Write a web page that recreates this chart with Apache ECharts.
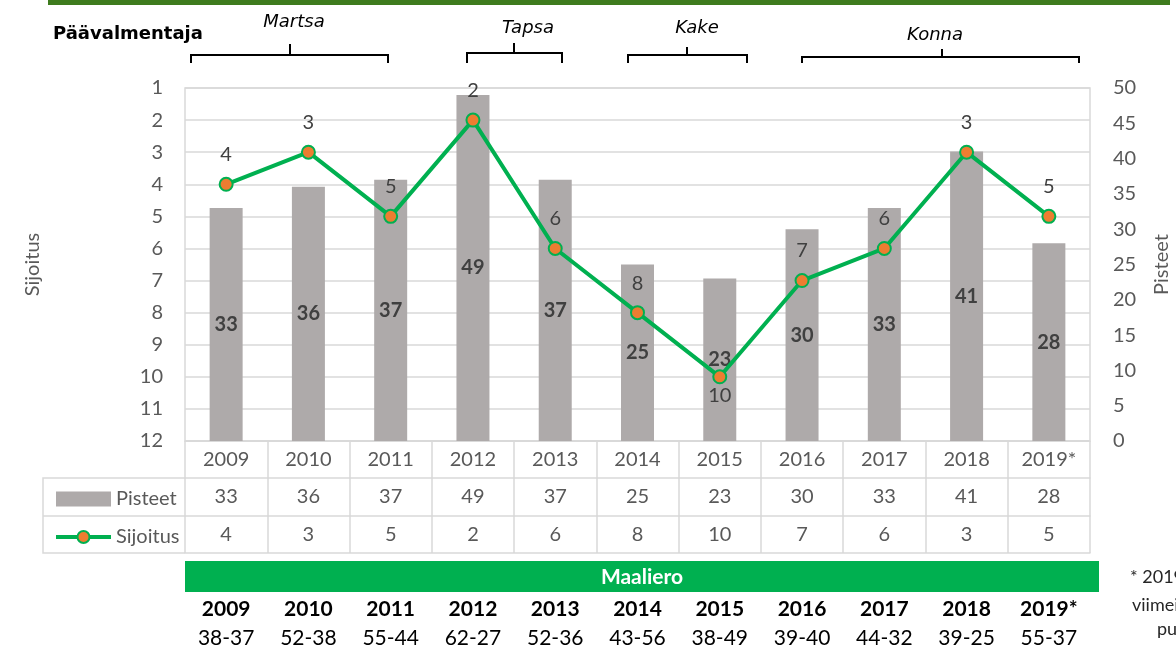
<!DOCTYPE html>
<html>
<head>
<meta charset="utf-8">
<script src="https://cdn.jsdelivr.net/npm/echarts@6/dist/echarts.min.js"></script>
<style>
html, body { margin: 0; padding: 0; background: #fff; }
#container { width: 1176px; height: 649px; }
</style>
</head>
<body>
<div id="container"></div>
<script>
var vuodet = ['2009', '2010', '2011', '2012', '2013', '2014', '2015', '2016', '2017', '2018', '2019*'];
var pisteet = [33, 36, 37, 49, 37, 25, 23, 30, 33, 41, 28];
var sijoitus = [4, 3, 5, 2, 6, 8, 10, 7, 6, 3, 5];
var maaliero = ['38-37', '52-38', '55-44', '62-27', '52-36', '43-56', '38-49', '39-40', '44-32', '39-25', '55-37'];
var sijoitusTicks = [1, 12, 1];		// min, max, interval
var pisteetTicks = [0, 50, 5];

var FONT = 'Lato, "Open Sans", sans-serif';
var GRAY = '#595959';
var LINE = '#d9d9d9';

// taulukon rivit tehdään lisä-x-akseleilla
function tableAxis(data, offset, tickLen, label) {
	return {
		type: 'category',
		data: data,
		position: 'bottom',
		gridIndex: 0,
		offset: offset,
		axisLine: { show: true, lineStyle: { color: LINE, width: 1.5 } },
		axisTick: { show: tickLen > 0, length: tickLen, interval: 0, lineStyle: { color: LINE, width: 1.5 } },
		axisLabel: label || { show: false }
	};
}
var rowLabel = { interval: 0, margin: 7, fontFamily: FONT, fontSize: 20, lineHeight: 24, color: GRAY };

var dom = document.getElementById('container');
var myChart = echarts.init(dom);

var option = {
	animation: false,
	textStyle: { fontFamily: FONT },
	legend: {
		orient: 'vertical',
		left: 49,
		top: 482,
		itemWidth: 55,
		itemHeight: 15,
		itemGap: 14,
		textStyle: { fontFamily: FONT, fontSize: 20, lineHeight: 24, color: GRAY },
		data: [
			{ name: 'Pisteet', icon: 'rect' },
			{ name: 'Sijoitus', lineStyle: { width: 4 } }
		]
	},
	grid: {
		left: 185, right: 86, top: 88, bottom: 208,
		outerBoundsMode: 'none',
		containLabel: false,
		show: true, borderColor: LINE, borderWidth: 1.5
	},
	xAxis: [
		tableAxis(vuodet, 0, 37, rowLabel),
		tableAxis(pisteet.map(String), 37, 38, rowLabel),
		tableAxis(sijoitus.map(String), 75, 37, rowLabel),
		tableAxis([], 112, 0, null),
		{
			type: 'category', data: vuodet, position: 'bottom', offset: 156,
			axisLine: { show: false }, axisTick: { show: false },
			axisLabel: { interval: 0, margin: 0, fontFamily: FONT, fontSize: 21, lineHeight: 24, fontWeight: 'bold', color: '#000' }
		},
		{
			type: 'category', data: maaliero, position: 'bottom', offset: 185,
			axisLine: { show: false }, axisTick: { show: false },
			axisLabel: { interval: 0, margin: 0, fontFamily: FONT, fontSize: 21, lineHeight: 24, color: '#000' }
		}
	],
	yAxis: [
		{
			type: 'value', inverse: true,
			min: sijoitusTicks[0], max: sijoitusTicks[1], interval: sijoitusTicks[2],
			name: 'Sijoitus', nameLocation: 'middle', nameRotate: 90, nameGap: 142,
			nameTextStyle: { fontFamily: FONT, fontSize: 20, color: GRAY },
			axisLine: { show: false }, axisTick: { show: false },
			axisLabel: { margin: 22, fontFamily: FONT, fontSize: 20, color: GRAY },
			splitLine: { show: true, lineStyle: { color: LINE, width: 1.5 } }
		},
		{
			type: 'value', position: 'right',
			min: pisteetTicks[0], max: pisteetTicks[1], interval: pisteetTicks[2],
			name: 'Pisteet', nameLocation: 'middle', nameRotate: 90, nameGap: 62,
			nameTextStyle: { fontFamily: FONT, fontSize: 20, color: GRAY },
			axisLine: { show: false }, axisTick: { show: false },
			axisLabel: { margin: 23, fontFamily: FONT, fontSize: 20, color: GRAY },
			splitLine: { show: false }
		}
	],
	series: [
		{
			name: 'Pisteet',
			type: 'bar',
			xAxisIndex: 0,
			yAxisIndex: 1,
			barWidth: 33,
			itemStyle: { color: '#aeaaaa' },
			label: {
				show: true, position: 'inside',
				fontFamily: FONT, fontSize: 20, fontWeight: 'bold', color: '#404040'
			},
			data: pisteet
		},
		{
			name: 'Sijoitus',
			type: 'line',
			xAxisIndex: 0,
			yAxisIndex: 0,
			symbol: 'circle',
			symbolSize: 13,
			lineStyle: { color: '#00b050', width: 4 },
			itemStyle: { color: '#ed7d31', borderColor: '#00b050', borderWidth: 2 },
			label: {
				show: true, position: 'top', distance: 12,
				fontFamily: FONT, fontSize: 20, color: '#404040'
			},
			z: 5,
			data: sijoitus.map(function (v, i) {
				if (v === 10) {
					return { value: v, label: { position: 'bottom', distance: 1 } };		// 2015 alapuolelle
				}
				return v;
			})
		}
	],
	graphic: [
		// ylä-palkki
		{ type: 'rect', shape: { x: 48, y: 0, width: 1122, height: 5 }, style: { fill: '#3e7b1e' } },
		{ type: 'text', x: 53, y: 25, style: { text: 'Päävalmentaja', font: 'bold 18px "DejaVu Sans"', fill: '#000' } },
		// valmentajat ja sulut
		{ type: 'text', x: 294, y: 13, style: { text: 'Martsa', font: 'italic 18px "DejaVu Sans"', fill: '#000', align: 'center' } },
		{ type: 'polyline', shape: { points: [[191, 63], [191, 55], [388, 55], [388, 63]] }, style: { stroke: '#000', lineWidth: 2, fill: null } },
		{ type: 'line', shape: { x1: 290, y1: 44, x2: 290, y2: 55 }, style: { stroke: '#000', lineWidth: 2 } },
		{ type: 'text', x: 528, y: 19, style: { text: 'Tapsa', font: 'italic 18px "DejaVu Sans"', fill: '#000', align: 'center' } },
		{ type: 'polyline', shape: { points: [[467, 63], [467, 53], [562, 53], [562, 63]] }, style: { stroke: '#000', lineWidth: 2, fill: null } },
		{ type: 'line', shape: { x1: 514, y1: 43, x2: 514, y2: 53 }, style: { stroke: '#000', lineWidth: 2 } },
		{ type: 'text', x: 697, y: 19, style: { text: 'Kake', font: 'italic 18px "DejaVu Sans"', fill: '#000', align: 'center' } },
		{ type: 'polyline', shape: { points: [[628, 63], [628, 55], [747, 55], [747, 63]] }, style: { stroke: '#000', lineWidth: 2, fill: null } },
		{ type: 'line', shape: { x1: 687, y1: 47, x2: 687, y2: 55 }, style: { stroke: '#000', lineWidth: 2 } },
		{ type: 'text', x: 935, y: 26, style: { text: 'Konna', font: 'italic 18px "DejaVu Sans"', fill: '#000', align: 'center' } },
		{ type: 'polyline', shape: { points: [[802, 63], [802, 57], [1079, 57], [1079, 63]] }, style: { stroke: '#000', lineWidth: 2, fill: null } },
		{ type: 'line', shape: { x1: 942, y1: 49, x2: 942, y2: 57 }, style: { stroke: '#000', lineWidth: 2 } },
		// selitesarakkeen reunat
		{ type: 'polyline', shape: { points: [[185, 478], [43, 478], [43, 553], [185, 553]] }, style: { stroke: LINE, lineWidth: 1.5, fill: null } },
		{ type: 'line', shape: { x1: 43, y1: 516, x2: 185, y2: 516 }, style: { stroke: LINE, lineWidth: 1.5 } },
		// Maaliero-palkki
		{ type: 'rect', shape: { x: 185, y: 561, width: 914, height: 31 }, style: { fill: '#00b050' } },
		{ type: 'text', x: 642, y: 577, style: { text: 'Maaliero', font: 'bold 21px Lato, sans-serif', fill: '#fff', align: 'center', verticalAlign: 'middle' } },
		// alaviite
		{ type: 'text', x: 1130, y: 577, style: { text: '* 2019 tilanne', font: '18px Lato, sans-serif', fill: '#262626', verticalAlign: 'middle' } },
		{ type: 'text', x: 1132, y: 605, style: { text: 'viimeinen kierros', font: '18px Lato, sans-serif', fill: '#262626', verticalAlign: 'middle' } },
		{ type: 'text', x: 1157, y: 629, style: { text: 'puuttuu', font: '18px Lato, sans-serif', fill: '#262626', verticalAlign: 'middle' } }
	]
};

myChart.setOption(option);
</script>
</body>
</html>
